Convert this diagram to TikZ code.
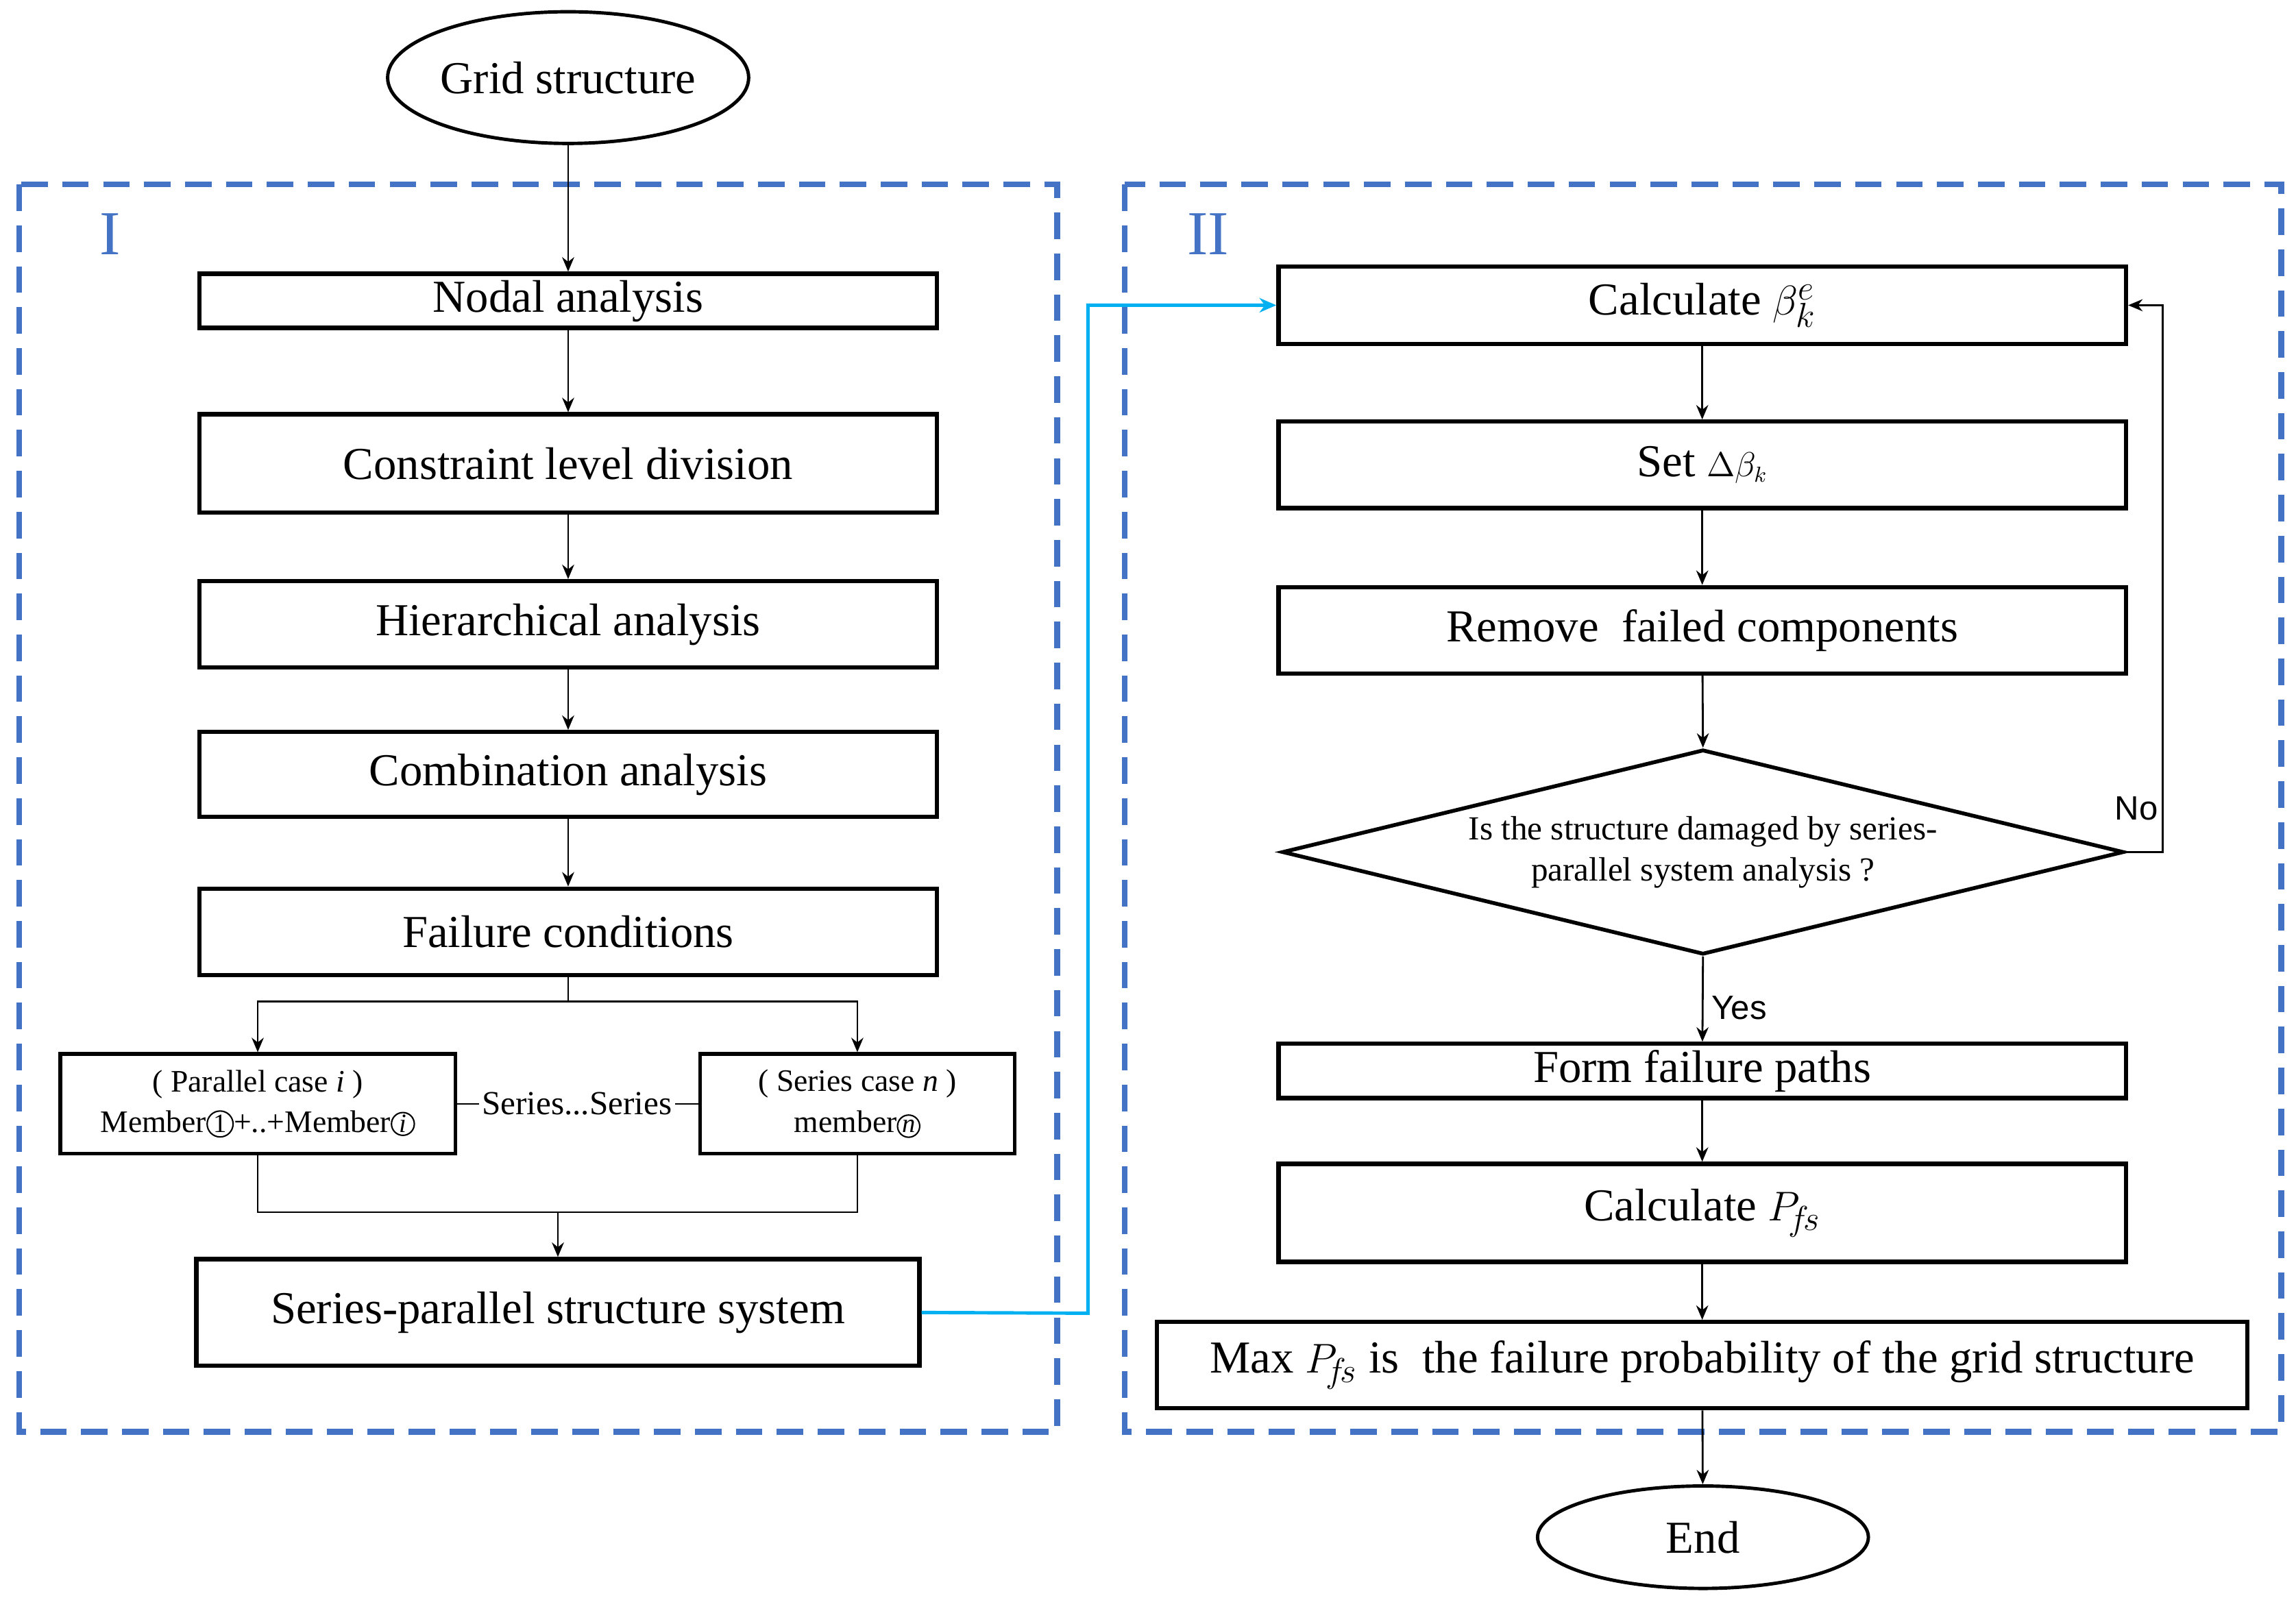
\documentclass[tikz,border=0pt]{standalone}
\usepackage{fontspec}
\setmainfont{Liberation Serif}
\newfontfamily\sansf{Liberation Sans}
\usetikzlibrary{shapes.geometric,arrows.meta}
\def\u{0.2137mm}
\newcommand{\circnum}[1]{\tikz[x=1cm,y=1cm,baseline=(c.base)]\node[draw,circle,inner sep=0.6pt,minimum width=0pt,minimum height=0pt,line width=0.6pt](c){\fontsize{11}{12}\selectfont #1};}
\begin{document}
\begin{tikzpicture}[x=0.02137cm,y=-0.02137cm,
 box/.style={draw,line width=1.8pt,rectangle,inner sep=0pt,font=\fontsize{19}{22}\selectfont},
 sbox/.style={draw,line width=1.6pt,rectangle,inner sep=0pt,align=center,font=\fontsize{13}{17}\selectfont},
 ell/.style={draw,line width=1.4pt,ellipse,inner sep=0pt,font=\fontsize{19}{22}\selectfont},
 dbox/.style={draw={rgb,255:red,68;green,114;blue,196},line width=2.4pt,dash pattern=on 11pt off 6pt},
 arr/.style={-{Stealth[length=6pt,width=5pt]},line width=0.8pt},
 ln/.style={line width=0.8pt}]
\useasboundingbox (0,0) rectangle (1568,1100);
\draw[dbox] (13,126) rectangle (722,978);
\draw[dbox] (768,126) rectangle (1558,978);
\node[text={rgb,255:red,68;green,114;blue,196},font=\fontsize{26}{28}\selectfont] (r1) at (75,160) {I};
\node[text={rgb,255:red,68;green,114;blue,196},font=\fontsize{26}{28}\selectfont] (r2) at (825,160) {II};

\node[ell,minimum width={234*\u},minimum height={90*\u}] (gs) at (388,53) {Grid structure};
\node[box,minimum width={504*\u},minimum height={37*\u}] (na) at (388,205.5) {Nodal analysis};
\node[box,minimum width={504*\u},minimum height={67*\u}] (cl) at (388,316.5) {Constraint level division};
\node[box,minimum width={504*\u},minimum height={59*\u}] (ha) at (388,426.5) {Hierarchical analysis};
\node[box,minimum width={504*\u},minimum height={58*\u}] (ca) at (388,529) {Combination analysis};
\node[box,minimum width={504*\u},minimum height={59*\u}] (fc) at (388,636.5) {Failure conditions};
\node[sbox,minimum width={270*\u},minimum height={68*\u}] (pc) at (176,754) {( Parallel case \textit{i} )\\ Member\circnum{1}+..+Member\circnum{\textit{i}}};
\node[sbox,minimum width={215*\u},minimum height={68*\u}] (sc) at (585.5,754) {( Series case \textit{n} )\\ member\circnum{\textit{n}}};
\node[font=\fontsize{14}{16}\selectfont,inner sep=1pt] (ss) at (394,754) {Series...Series};
\draw[ln] (pc.east) -- (ss.west);
\draw[ln] (ss.east) -- (sc.west);
\node[box,minimum width={494*\u},minimum height={73*\u}] (sp) at (381,896.5) {Series-parallel structure system};

\draw[arr] (gs) -- (na);
\draw[arr] (na) -- (cl);
\draw[arr] (cl) -- (ha);
\draw[arr] (ha) -- (ca);
\draw[arr] (ca) -- (fc);
\coordinate (b0) at (388,684);
\draw[ln] (fc.south) -- (b0);
\draw[arr] (b0) -| (pc.north);
\draw[arr] (b0) -| (sc.north);
\coordinate (m0) at (381,828);
\draw[ln] (pc.south) |- (m0);
\draw[ln] (sc.south) |- (m0);
\draw[arr] (m0) -- (sp.north);

\node[box,minimum width={579*\u},minimum height={53*\u}] (cb) at (1162.5,208.5) {Calculate $\beta_k^e$};
\node[box,minimum width={579*\u},minimum height={59*\u}] (sd) at (1162.5,317.5) {Set $\scriptstyle\Delta\beta_k$};
\node[box,minimum width={579*\u},minimum height={59*\u}] (rf) at (1162.5,430.5) {Remove\ \ failed components};
\node[draw,line width=1.6pt,diamond,aspect=4.1,inner sep=0pt,minimum width={575*\u},minimum height={140*\u},align=center,font=\fontsize{14}{17}\selectfont] (dm) at (1163,582) {Is the structure damaged by series-\\parallel system analysis ?};
\node[box,minimum width={579*\u},minimum height={37*\u}] (fp) at (1162.5,731.5) {Form failure paths};
\node[box,minimum width={579*\u},minimum height={67*\u}] (cp) at (1162.5,828.5) {Calculate $P_{\!f\!s}$};
\node[box,minimum width={745*\u},minimum height={59*\u}] (mx) at (1162.5,932.5) {Max $P_{\!f\!s}$\ is\ \ the failure probability of the grid structure};
\node[ell,minimum width={226*\u},minimum height={70*\u}] (en) at (1163,1050) {End};

\draw[arr] (cb) -- (sd);
\draw[arr] (sd) -- (rf);
\draw[arr] (rf) -- (dm.north);
\draw[arr] (dm.south) -- node[right,pos=0.6,font=\sansf\fontsize{14}{16}\selectfont]{Yes} (fp);
\draw[arr] (fp) -- (cp);
\draw[arr] (cp) -- (mx);
\draw[arr] (mx) -- (en);
\coordinate (nr) at (1477,582);
\draw[arr] (dm.east) -- (nr) |- (cb.east);
\node[font=\sansf\fontsize{14}{16}\selectfont] (no) at (1459,552) {No};
\coordinate (bl) at (743,897);
\draw[-{Stealth[length=7pt,width=6pt]},line width=1.4pt,draw={rgb,255:red,0;green,176;blue,240}] (sp.east) -- (bl) |- (cb.west);
\end{tikzpicture}
\end{document}
